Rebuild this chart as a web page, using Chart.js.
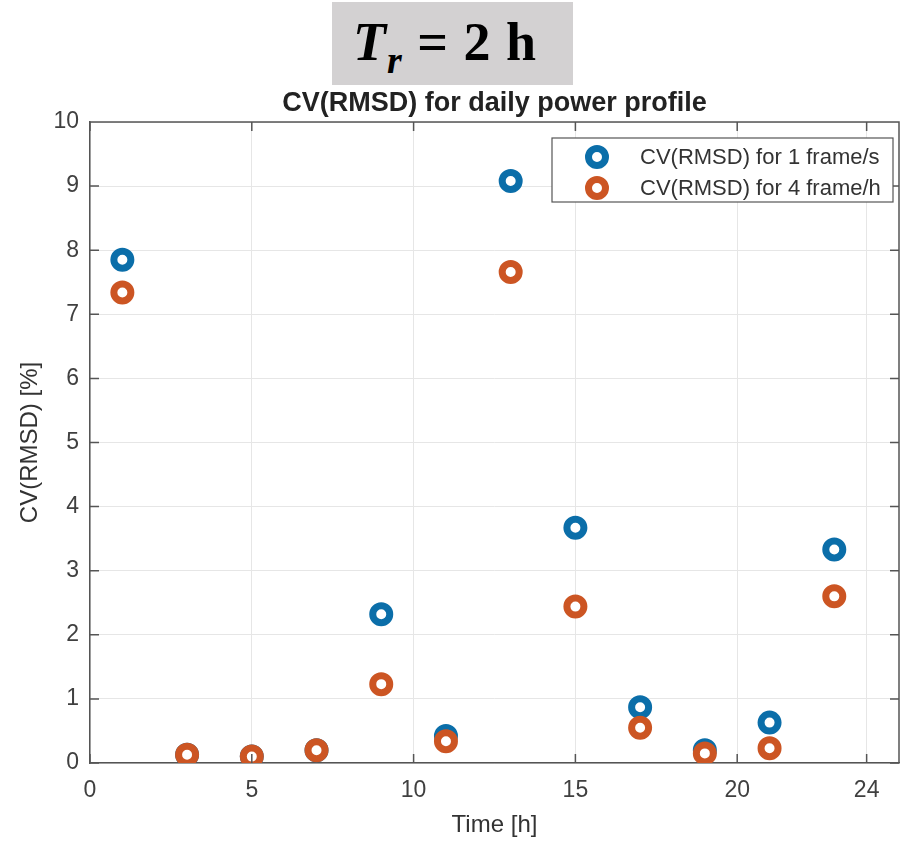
<!DOCTYPE html>
<html>
<head>
<meta charset="utf-8">
<script src="https://cdn.jsdelivr.net/npm/chart.js"></script>
<style>
  body { margin: 0; background: #fff; }
  #wrap { position: relative; width: 900px; height: 843px; }
  #chart { position: absolute; left: 0; top: 0; }
  #head {
    position: absolute; left: 332px; top: 2px; width: 220px; height: 83px;
    padding-left: 21px;
    background: #d3d1d2; text-align: left; white-space: nowrap;
    font-family: "Liberation Serif", "DejaVu Serif", serif; font-weight: bold;
    font-size: 54px; line-height: 80px; color: #000; letter-spacing: 1px;
  }
  #head i { font-style: italic; }
  #head sub { font-size: 38px; vertical-align: -13px; line-height: 0; }
</style>
</head>
<body>
<div id="wrap">
  <canvas id="chart" width="900" height="843"></canvas>
  <div id="head"><i>T</i><sub><i>r</i></sub> = 2 h</div>
</div>
<script>
// time of day [h]
const hours = [1, 3, 5, 7, 9, 11, 13, 15, 17, 19, 21, 23];
// CV(RMSD) [%]
const cvFrameSec = [7.85, 0.13, 0.10, 0.20, 2.32, 0.42, 9.08, 3.67, 0.87, 0.20, 0.63, 3.33];
const cvFrameHour = [7.34, 0.13, 0.10, 0.20, 1.23, 0.34, 7.66, 2.44, 0.55, 0.15, 0.23, 2.60];
const seriesNames = ["CV(RMSD) for 1 frame/s", "CV(RMSD) for 4 frame/h"];
const xTicks = [0, 5, 10, 15, 20, 24];
const yTicks = [0, 1, 2, 3, 4, 5, 6, 7, 8, 9, 10];

const blue = "#0b6ea9";
const orange = "#cc5523";
const axisCol = "#555555";
const FONT = "'Liberation Sans', Arial, sans-serif";

function pts(ys) {
  return hours.map((h, i) => ({x: h, y: ys[i]}));
}

// inward ticks, top/right box and the legend box
const matlabBits = {
  id: "matlabBits",
  afterDraw(chart) {
    const ctx = chart.ctx;
    const a = chart.chartArea;
    const xs = chart.scales.x, ys = chart.scales.y;
    ctx.save();
    ctx.strokeStyle = axisCol;
    ctx.lineWidth = 1.5;
    ctx.beginPath();
    ctx.moveTo(a.left, a.top); ctx.lineTo(a.right, a.top); ctx.lineTo(a.right, a.bottom);
    xTicks.forEach(t => {
      const px = xs.getPixelForValue(t);
      ctx.moveTo(px, a.bottom); ctx.lineTo(px, a.bottom - 9);
      ctx.moveTo(px, a.top); ctx.lineTo(px, a.top + 9);
    });
    yTicks.forEach(t => {
      const py = ys.getPixelForValue(t);
      ctx.moveTo(a.left, py); ctx.lineTo(a.left + 9, py);
      ctx.moveTo(a.right, py); ctx.lineTo(a.right - 9, py);
    });
    ctx.stroke();

    // legend
    const lx = 552, ly = 138, lw = 341, lh = 64;
    ctx.fillStyle = "#fff";
    ctx.fillRect(lx, ly, lw, lh);
    ctx.lineWidth = 1.2;
    ctx.strokeRect(lx, ly, lw, lh);
    const cols = [blue, orange];
    seriesNames.forEach((name, i) => {
      const cy = ly + 19 + i * 31;
      ctx.beginPath();
      ctx.arc(597, cy, 8.5, 0, Math.PI * 2);
      ctx.fillStyle = "#fff";
      ctx.fill();
      ctx.lineWidth = 7;
      ctx.strokeStyle = cols[i];
      ctx.stroke();
      ctx.fillStyle = "#333";
      ctx.font = "22px " + FONT;
      ctx.textBaseline = "middle";
      ctx.fillText(name, 640, cy + 1);
    });
    ctx.restore();
  }
};

new Chart(document.getElementById("chart"), {
  type: "scatter",
  data: {
    datasets: [
      {
        label: seriesNames[0],
        data: pts(cvFrameSec),
        pointStyle: "circle",
        pointRadius: 8.5,
        pointBorderWidth: 7,
        pointBackgroundColor: "#fff",
        pointBorderColor: blue,
        order: 1
      },
      {
        label: seriesNames[1],
        data: pts(cvFrameHour),
        pointStyle: "circle",
        pointRadius: 8.5,
        pointBorderWidth: 7,
        pointBackgroundColor: "#fff",
        pointBorderColor: orange,
        order: 0
      }
    ]
  },
  options: {
    responsive: false,
    animation: false,
    devicePixelRatio: 1,
    layout: { autoPadding: false, padding: { left: 0, right: 1, top: 0, bottom: 0 } },
    plugins: {
      legend: { display: false },
      tooltip: { enabled: false },
      title: {
        display: true,
        text: "CV(RMSD) for daily power profile",
        fullSize: false,
        color: "#222",
        font: { family: FONT, size: 27, weight: "bold" },
        padding: { top: 87, bottom: 2.6 }
      }
    },
    scales: {
      x: {
        type: "linear",
        min: 0,
        max: 25,
        afterBuildTicks: s => { s.ticks = xTicks.map(v => ({value: v})); },
        afterFit: s => { s.height = 80; s.paddingLeft = 0; s.paddingRight = 0; },
        grid: { color: "#e6e6e6", lineWidth: 1, drawTicks: false },
        border: { display: true, color: axisCol, width: 1.5 },
        ticks: { color: "#404040", font: { family: FONT, size: 23 }, padding: 14, maxRotation: 0 },
        title: {
          display: true,
          text: "Time [h]",
          color: "#333",
          font: { family: FONT, size: 24 },
          padding: { top: 0, bottom: 3 }
        }
      },
      y: {
        min: 0,
        max: 10,
        afterBuildTicks: s => { s.ticks = yTicks.map(v => ({value: v})); },
        afterFit: s => { s.width = 90; },
        grid: { color: "#e6e6e6", lineWidth: 1, drawTicks: false },
        border: { display: true, color: axisCol, width: 1.5 },
        ticks: { color: "#404040", font: { family: FONT, size: 23 }, padding: 11 },
        title: {
          display: true,
          text: "CV(RMSD) [%]",
          color: "#333",
          font: { family: FONT, size: 24 },
          padding: { top: 16, bottom: 0 }
        }
      }
    }
  },
  plugins: [matlabBits]
});
</script>
</body>
</html>
